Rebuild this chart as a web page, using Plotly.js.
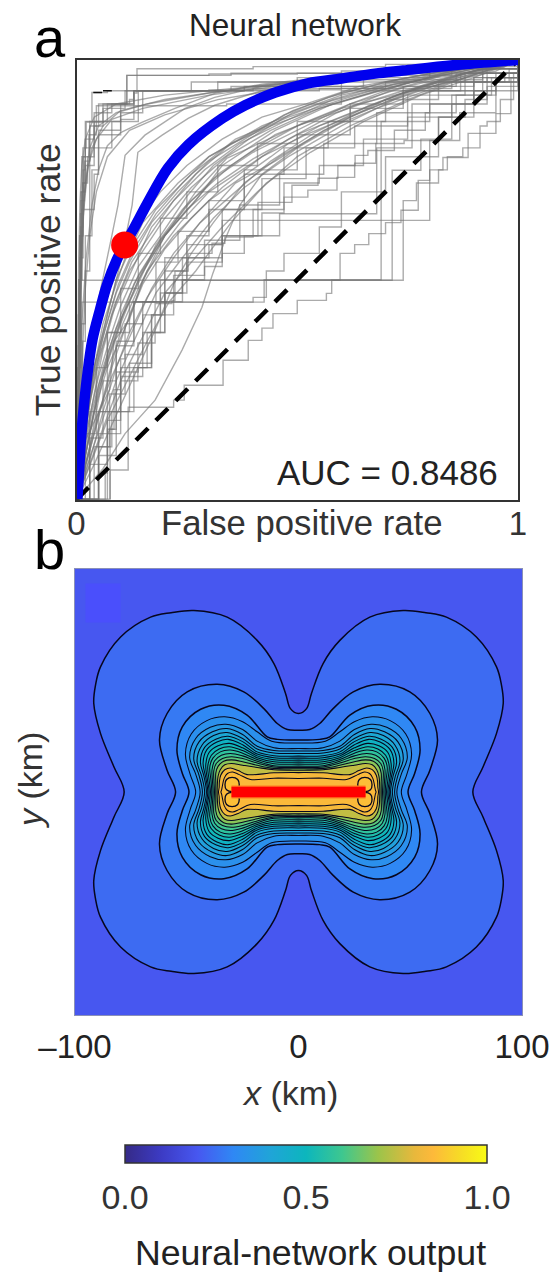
<!DOCTYPE html>
<html><head><meta charset="utf-8">
<script src="https://cdn.plot.ly/plotly-3.0.1.min.js"></script>
<style>html,body{margin:0;padding:0;background:#fff}#chart{width:552px;height:1274px}</style>
</head><body><div id="chart"></div>
<script>
// ---------- panel a: ROC curves (x, y pairs) ----------
const meanRocX = [0.002,0.006,0.010,0.018,0.026,0.036,0.053,0.069,0.091,0.109,0.128,0.161,0.207,0.253,0.330,0.382,0.450,0.524,0.601,0.676,0.740,0.853,1];
const meanRocY = [0.001,0.067,0.135,0.226,0.295,0.363,0.431,0.488,0.545,0.579,0.613,0.675,0.754,0.807,0.867,0.897,0.926,0.947,0.958,0.969,0.976,0.988,1];
const operatingX = [0.109];
const operatingY = [0.579];
const chanceX = [0,1];
const chanceY = [0,1];
const aucText = 'AUC = 0.8486';
const fineRocCurves = [
 [0,0,.01,.12,.02,.24,.04,.36,.07,.47,.1,.55,.14,.63,.19,.7,.25,.76,.33,.82,.42,.87,.52,.9,.64,.94,.78,.965,.9,.985,1,1],
 [0,0,.012,.1,.025,.2,.05,.32,.08,.42,.12,.51,.17,.62,.22,.68,.29,.75,.37,.81,.47,.86,.58,.91,.7,.945,.85,.975,1,1],
 [0,0,.015,.09,.035,.2,.06,.3,.09,.39,.13,.47,.18,.58,.24,.66,.31,.73,.4,.79,.5,.84,.62,.9,.75,.94,.88,.97,1,1],
 [0,0,.02,.1,.04,.2,.07,.3,.11,.39,.15,.49,.2,.57,.26,.64,.33,.71,.42,.78,.52,.83,.64,.88,.77,.93,.9,.965,1,1],
 [0,0,.022,.09,.05,.2,.08,.28,.12,.37,.17,.48,.22,.56,.28,.63,.36,.72,.45,.77,.56,.84,.68,.89,.82,.94,1,1],
 [0,0,.025,.08,.055,.17,.09,.27,.13,.36,.18,.47,.24,.55,.31,.64,.38,.71,.48,.78,.6,.85,.72,.91,.85,.955,1,1],
 [0,0,.03,.08,.06,.16,.1,.27,.14,.35,.2,.47,.26,.54,.33,.62,.41,.7,.5,.78,.62,.85,.75,.91,.88,.96,1,1],
 [0,0,.035,.09,.07,.18,.11,.26,.16,.36,.21,.45,.27,.52,.35,.63,.43,.72,.53,.79,.65,.86,.78,.92,.9,.96,1,1],
 [0,0,.015,.12,.03,.22,.055,.33,.085,.44,.125,.54,.165,.6,.22,.68,.27,.74,.35,.81,.44,.85,.55,.89,.68,.93,.8,.96,1,1],
 [0,0,.01,.09,.03,.19,.05,.28,.08,.38,.1,.44,.14,.53,.19,.6,.25,.69,.31,.76,.39,.82,.49,.88,.6,.92,.74,.95,.88,.98,1,1],
 [0,0,.02,.13,.04,.24,.06,.34,.09,.45,.12,.52,.16,.58,.2,.64,.26,.71,.34,.78,.44,.84,.55,.89,.67,.925,.8,.96,1,1],
 [0,0,.03,.11,.05,.19,.08,.31,.105,.4,.14,.48,.19,.57,.235,.63,.3,.7,.39,.76,.48,.82,.59,.88,.71,.93,.83,.965,1,1],
 [0,0,.06,.07,.11,.15,.178,.226,.239,.34,.284,.437,.309,.515,.34,.6,.37,.67,.42,.74,.5,.8,.62,.87,.76,.93,.9,.975,1,1],
 [0,0,.04,.08,.08,.17,.13,.28,.18,.39,.22,.49,.26,.56,.31,.63,.38,.72,.46,.78,.58,.85,.7,.91,.84,.96,1,1],
 [0,0,.005,.2,.012,.4,.022,.55,.035,.67,.05,.75,.07,.805,.1,.835,.148,.858,.223,.89,.313,.924,.42,.945,.6,.965,.8,.985,1,1],
 [0,0,.012,.18,.03,.35,.055,.48,.08,.6,.094,.67,.11,.783,.155,.829,.246,.89,.313,.915,.42,.94,.6,.96,.8,.98,1,1],
 [0,0,.02,.17,.04,.3,.07,.42,.1,.54,.126,.67,.139,.79,.194,.829,.253,.867,.313,.897,.42,.93,.6,.96,.8,.98,1,1],
 [0,0,.004,.15,.008,.35,.012,.55,.018,.7,.03,.8,.05,.85,.09,.88,.16,.9,.3,.925,.5,.95,.75,.98,1,1],
 [0,0,.006,.1,.012,.3,.02,.48,.03,.6,.045,.7,.07,.78,.12,.84,.2,.875,.32,.91,.5,.94,.75,.97,1,1],
 [0,0,.02,.135,.075,.25,.085,.36,.12,.41,.15,.5,.2,.6,.27,.68,.33,.76,.45,.84,.58,.9,.72,.94,.85,.975,1,1],
 [0,0,.04,.15,.08,.3,.12,.42,.16,.52,.22,.6,.3,.68,.44,.78,.48,.81,.55,.85,.68,.9,.78,.94,.88,.97,1,1],
 [0,0,.03,.12,.06,.28,.1,.4,.14,.5,.2,.6,.27,.7,.34,.776,.5,.85,.66,.905,.74,.93,.823,.95,.95,.98,1,1],
 [0,0,.02,.1,.05,.26,.09,.38,.13,.49,.19,.59,.26,.68,.35,.76,.45,.83,.6,.89,.72,.92,.868,.955,.95,.975,1,1],
 [0,0,.04,.3,.09,.5,.15,.63,.23,.72,.3,.78,.42,.85,.55,.9,.7,.94,.83,.965,.93,.98,1,1],
 [0,0,.02,.2,.06,.4,.11,.55,.18,.66,.26,.74,.36,.82,.48,.87,.6,.91,.72,.945,.85,.965,.97,.985,1,1],
 [0,0,.018,.16,.035,.27,.06,.37,.09,.47,.12,.54,.17,.63,.23,.7,.3,.77,.38,.82,.47,.875,.57,.915,.7,.95,.83,.975,1,1],
 [0,0,.028,.14,.05,.25,.075,.33,.105,.42,.15,.52,.2,.6,.26,.67,.32,.74,.41,.8,.51,.855,.62,.9,.74,.945,.88,.98,1,1],
 [0,0,.033,.1,.06,.2,.09,.3,.12,.38,.16,.46,.22,.55,.28,.63,.36,.7,.44,.77,.54,.835,.66,.895,.79,.945,.92,.98,1,1],
 [0,0,.014,.11,.04,.28,.065,.39,.095,.49,.13,.57,.18,.65,.24,.72,.3,.78,.39,.83,.49,.885,.6,.925,.73,.955,.86,.98,1,1],
 [0,0,.024,.12,.045,.22,.07,.33,.1,.42,.14,.51,.19,.59,.25,.66,.32,.72,.4,.775,.5,.83,.61,.875,.74,.925,.87,.965,1,1],
 [0,0,.003,.12,.006,.3,.01,.5,.015,.64,.024,.74,.035,.8,.06,.85,.1,.885,.2,.91,.4,.94,.7,.975,1,1],
 [0,0,.002,.1,.004,.25,.007,.42,.011,.58,.017,.68,.026,.76,.045,.82,.08,.865,.15,.89,.3,.92,.6,.96,1,1],
 [0,0,.001,.15,.003,.38,.005,.55,.008,.68,.012,.76,.02,.82,.04,.87,.09,.9,.2,.92,.5,.95,.8,.98,1,1]
];
const stepRocCurves = [
 [0,0,.003,.3,.006,.5,.012,.7,.02,.8,.03,.86,.035,.926,.07,.93,.3,.932,.6,.94,.9,.95,.97,.97,1,1],
 [0,0,.004,.35,.008,.55,.015,.72,.025,.78,.04,.86,.06,.9,.114,.965,.3,.968,.5,.97,.8,.985,1,1],
 [0,0,.002,.25,.005,.5,.01,.68,.018,.77,.03,.85,.05,.9,.13,.925,.137,.98,.4,.985,.7,.99,1,1],
 [0,0,.006,.3,.01,.6,.015,.75,.02,.82,.04,.88,.08,.9,.13,.93,.3,.93,.55,.935,.85,.95,.98,.98,1,1],
 [0,0,.003,.2,.006,.45,.009,.65,.0145,.8,.022,.859,.06,.86,.07,.9,.12,.91,.13,.93,.35,.94,.6,.95,.9,.96,1,1],
 [0,0,.005,.4,.008,.6,.012,.78,.02,.86,.1,.865,.13,.896,.34,.9,.6,.93,.95,.96,1,1],
 [0,0,.003,.15,.01,.4,.02,.6,.035,.75,.05,.83,.1,.86,.14,.93,.4,.935,.7,.95,1,1],
 [0,0,.004,.3,.007,.5,.012,.66,.03,.8,.08,.86,.1,.9,.114,.965,.35,.97,.6,.975,.85,.99,1,1],
 [0,0,.002,.2,.004,.42,.007,.6,.01,.7,.016,.78,.028,.83,.045,.896,.13,.93,.38,.94,.65,.955,.92,.98,1,1],
 [0,0,.003,.28,.006,.48,.009,.62,.014,.72,.02,.76,.04,.85,.06,.89,.11,.93,.26,.95,.5,.96,.8,.98,1,1],
 [0,0,.008,.18,.014,.36,.02,.52,.03,.66,.04,.74,.05,.84,.1,.88,.15,.93,.32,.95,.6,.965,.85,.98,1,1],
 [0,0,.008,.499,.715,.749,.78,.82,.85,.9,.93,.96,1,1],
 [0,0,.03,.2,.07,.38,.12,.449,.425,.5,.69,.635,.8,.817,.868,.88,.95,.95,1,1],
 [0,0,.05,.2,.09,.35,.13,.45,.2,.55,.33,.635,.69,.86,.8,.9,.9,.95,1,1],
 [0,0,.076,.067,.117,.21,.22,.226,.244,.26,.332,.317,.389,.362,.42,.39,.445,.423,.5,.453,.566,.469,.578,.499,.597,.56,.63,.58,.662,.605,.7,.63,.735,.658,.774,.726,.8,.75,.83,.778,.887,.833,.95,.878,.984,.96,1,1],
 [0,0,.076,.16,.09,.29,.14,.3,.17,.42,.2,.47,.24,.55,.3,.58,.33,.6,.42,.652,.47,.688,.524,.704,.59,.733,.63,.765,.678,.81,.742,.817,.82,.87,.88,.91,.93,.94,1,1],
 [0,0,.05,.1,.09,.2,.13,.3,.17,.38,.2,.45,.24,.5,.29,.53,.33,.56,.38,.6,.411,.676,.488,.715,.547,.731,.592,.76,.631,.783,.66,.794,.72,.84,.79,.88,.86,.92,.94,.96,1,1],
 [0,0,.03,.08,.07,.18,.1,.27,.139,.356,.178,.446,.216,.453,.223,.52,.253,.56,.307,.583,.336,.597,.4,.66,.47,.72,.55,.76,.65,.82,.75,.87,.85,.92,.95,.97,1,1],
 [0,0,.012,.449,.4,.46,.43,.52,.47,.56,.55,.62,.6,.7,.7,.78,.82,.87,.9,.93,1,1],
 [0,0,.065,.06,.07,.16,.085,.25,.1,.32,.11,.4,.15,.45,.2,.52,.25,.6,.3,.66,.38,.75,.5,.83,.62,.89,.74,.93,.87,.97,1,1],
 [0,0,.07,.2,.1,.3,.16,.38,.19,.47,.25,.54,.33,.6,.46,.65,.68,.8,.76,.9,.9,.96,1,1],
 [0,0,.05,.15,.1,.28,.15,.38,.2,.47,.24,.499,.74,.68,.77,.72,.82,.75,.84,.78,.875,.8,.914,.85,.93,.86,.96,.91,.99,.97,1,1],
 [0,0,.02,.15,.045,.3,.07,.38,.1,.48,.14,.56,.19,.64,.25,.7,.32,.76,.41,.81,.5,.86,.62,.9,.74,.94,.86,.97,1,1],
 [0,0,.03,.14,.06,.27,.09,.36,.13,.45,.18,.54,.23,.61,.3,.68,.38,.74,.47,.8,.57,.86,.7,.91,.82,.95,.93,.98,1,1],
 [0,0,.04,.12,.075,.24,.11,.33,.15,.42,.19,.5,.25,.58,.33,.66,.42,.73,.52,.8,.63,.85,.75,.92,.88,.97,1,1],
 [0,0,.05,.12,.08,.2,.12,.31,.17,.42,.22,.51,.29,.59,.37,.67,.46,.74,.56,.81,.68,.88,.8,.93,.92,.97,1,1]
];
const darkMarkX = [.038,.058,null,.06,.08];
const darkMarkY = [.926,.926,null,.93,.93];

// ---------- panel b: contour lines (one quadrant, |x| km, |y| km, outer to inner) ----------
const contourQuadrants = [
 [78,0,82.6,11.3,88.6,26.3,91.6,39.7,90.8,48,88.6,56.1,79.6,69.5,66.2,78.4,57,80.4,46.8,81.4,31.9,78.4,18.5,68,11,57.6,5.8,44.2,3.6,37.4,0,35.2],
 [55,0,58.8,9.8,62.2,23.3,58.8,35.2,49.8,44.9,36.4,48.3,24.5,44.9,15.5,37.4,9.5,30.7,5,28,0,27.7],
 [49,0,52,8.4,54.4,18.8,52,29.2,43.8,37.1,33.4,38.9,23,34.5,14,24.7,9.5,23.6,0,23.3],
 [46,0,48.5,8,50.6,17,48,26,41,32,33,33.7,25,31.5,18.5,27,12,22.8,0,22],
 [44,0,46,8,48.7,15.5,46,24,39.5,29,32.5,30.4,25,28,18.5,22.8,11,19.8,0,19.5],
 [43,0,44.5,7.5,46.9,15,44.5,22.5,38.5,27,32,28.5,25,25.8,18.5,20.5,11,18.6,0,18.4],
 [42,0,43.3,7,45.4,14,43.2,21,38,25.3,32,26.7,25,24,18.5,19.3,11,17.5,0,17.3],
 [41.2,0,42.3,7,43.9,13.5,42,20,37,23.7,31.5,25,25,22.6,18.5,18,11,16.3,0,16.1],
 [40.6,0,41.5,6.5,42.7,13,41,19,36.5,22.4,31.5,23.6,25,21.2,18.5,17,11,15.4,0,15.2],
 [40,0,40.8,6,41.5,12,40,17.7,36,20.7,31,21.8,25,19.8,18.5,16.2,11,14.5,0,14.3],
 [39.4,0,40,5.5,40.6,11.5,39,16.5,35.5,19.3,31,20.3,25,18.6,18.5,15.4,11,13.6,0,13.4],
 [38.8,0,39.2,5.5,39.7,11,38.3,15.2,35,18,30.5,18.8,25,17.4,18.5,14.6,11,12.7,0,12.5],
 [38.2,0,38.5,5,38.7,10,37.5,14,34.5,16.5,30.5,17.3,25,16.2,18.5,13.8,11,11.8,0,11.6],
 [37.6,0,37.8,4.5,37.9,9.5,36.8,12.8,34,15,30,15.8,25,15,18.5,13,11,11.2,0,11],
 [37,0,37,4,37,8.5,36,11.5,33.5,13.8,30,14.4,25,13.6,18.5,12,11,10.6,0,10.4],
 [36.4,0,36.3,3.5,36,7,35,10,33,12.2,30,12.8,25,12,18.5,11,11,10,0,9.8],
 [35.8,0,35.5,2,35.4,4.5,34.8,7.5,33,10,30.5,10.8,27,9.6,23,7.8,11,8.6,0,8.7],
 [34.7,0,34.4,1,34,3,33.3,6,31.8,8.3,29.5,9,26.5,7.8,21.5,5.6,11,6.2,0,6.1]
];
const contourValues = [.24,.27,.30,.33,.36,.39,.42,.45,.48,.51,.54,.57,.60,.63,.68,.75,.83,.845];
const backgroundValue = 0.2;
const lobeRingX = [29.7,32.2,32.9,32.2,29.7,27.2,26.5,27.2,29.7];
const lobeRingY = [0.2,1.0,3.3,5.6,6.6,5.6,3.3,1.0,0.2];
const lobeRingValue = 0.86;
const faultX = [-30,30];
const faultY = [0,0];

// ---------- colour bar ----------
const colorStops = [[0,'#352a87'],[.1,'#3c3bc4'],[.2,'#4757f0'],[.3,'#2f88f4'],[.4,'#20a4d8'],[.5,'#0cb6bd'],[.6,'#3ec78f'],[.7,'#9cc44a'],[.8,'#e8b83c'],[.85,'#fdb93a'],[.93,'#f6dd25'],[1,'#f9fb15']];
const colorbarTicks = [0,0.5,1];
const colorbarLabels = ['0.0','0.5','1.0'];
const xTicksB = [-100,0,100];
const xLabelsB = ['\u2013100','0','100'];

// ---------- helpers ----------
function FONT(){return '"Liberation Sans", Arial, sans-serif';}
function hex(c){return [1,3,5].map(i=>parseInt(c.substr(i,2),16));}
function colorOf(v){
  for(let i=1;i<colorStops.length;i++){
    if(v<=colorStops[i][0]){
      const a=colorStops[i-1],b=colorStops[i],t=(v-a[0])/(b[0]-a[0]);
      const p=hex(a[1]),q=hex(b[1]);
      return 'rgb('+p.map((u,k)=>Math.round(u+(q[k]-u)*t)).join(',')+')';
    }
  }
  return colorStops[colorStops.length-1][1];
}
function splitPairs(f){const x=[],y=[];for(let i=0;i<f.length;i+=2){x.push(f[i]);y.push(f[i+1]);}return {x,y};}
function mirrored(f){
  const q=splitPairs(f),n=q.x.length,x=[],y=[];
  for(let i=0;i<n;i++){x.push(q.x[i]);y.push(q.y[i]);}
  for(let i=n-2;i>=0;i--){x.push(-q.x[i]);y.push(q.y[i]);}
  for(let i=1;i<n;i++){x.push(-q.x[i]);y.push(-q.y[i]);}
  for(let i=n-2;i>=0;i--){x.push(q.x[i]);y.push(-q.y[i]);}
  return {x,y};
}
const GREY='rgba(115,115,115,0.6)';
const LINE='#06061e';
const traces=[];
fineRocCurves.forEach(f=>{const p=splitPairs(f);traces.push({type:'scatter',mode:'lines',x:p.x,y:p.y,xaxis:'x',yaxis:'y',line:{color:GREY,width:1.4},hoverinfo:'skip',showlegend:false});});
stepRocCurves.forEach(f=>{const p=splitPairs(f);traces.push({type:'scatter',mode:'lines',x:p.x,y:p.y,xaxis:'x',yaxis:'y',line:{color:GREY,width:1.4,shape:'hv'},hoverinfo:'skip',showlegend:false});});
traces.push({type:'scatter',mode:'lines',x:darkMarkX,y:darkMarkY,xaxis:'x',yaxis:'y',line:{color:'#111',width:1.5},hoverinfo:'skip',showlegend:false});
traces.push({type:'scatter',mode:'lines',x:chanceX,y:chanceY,xaxis:'x',yaxis:'y',line:{color:'#000',width:4.5,dash:'17px,11px'},hoverinfo:'skip',showlegend:false});
traces.push({type:'scatter',mode:'lines',x:meanRocX,y:meanRocY,xaxis:'x',yaxis:'y',line:{color:'#0000ee',width:10.5,shape:'spline',smoothing:1},hoverinfo:'skip',showlegend:false});
traces.push({type:'scatter',mode:'markers',x:operatingX,y:operatingY,xaxis:'x',yaxis:'y',marker:{color:'#ff0000',size:27},hoverinfo:'skip',showlegend:false});

contourQuadrants.forEach((f,i)=>{
  const p=mirrored(f);
  traces.push({type:'scatter',mode:'lines',x:p.x,y:p.y,xaxis:'x2',yaxis:'y2',fill:'toself',fillcolor:colorOf(contourValues[i]),
    line:{color:LINE,width:i<3?1.5:1.05,shape:'spline',smoothing:1},hoverinfo:'skip',showlegend:false});
});
[[1,1],[-1,1],[-1,-1],[1,-1]].forEach(s=>{
  traces.push({type:'scatter',mode:'lines',x:lobeRingX.map(v=>v*s[0]),y:lobeRingY.map(v=>v*s[1]),xaxis:'x2',yaxis:'y2',fill:'toself',fillcolor:colorOf(lobeRingValue),
    line:{color:LINE,width:1.3,shape:'spline',smoothing:1},hoverinfo:'skip',showlegend:false});
});
traces.push({type:'scatter',mode:'lines',x:faultX,y:faultY,xaxis:'x2',yaxis:'y2',line:{color:'#ff7a20',width:13},hoverinfo:'skip',showlegend:false});
traces.push({type:'scatter',mode:'lines',x:faultX,y:faultY,xaxis:'x2',yaxis:'y2',line:{color:'#ff0000',width:10.5},hoverinfo:'skip',showlegend:false});
// colour-bar carrier, outside the axis range
traces.push({type:'scatter',mode:'markers',x:[-1000,-1000],y:[-1000,-1000],xaxis:'x2',yaxis:'y2',hoverinfo:'skip',showlegend:false,
  marker:{color:[0,1],cmin:0,cmax:1,colorscale:colorStops,showscale:true,size:1,
    colorbar:{orientation:'h',lenmode:'pixels',len:362,thicknessmode:'pixels',thickness:18,x:306/552,xanchor:'center',y:(1274-1145)/1274,yanchor:'top',
      xpad:0,ypad:0,outlinecolor:'#333',outlinewidth:1.5,tickmode:'array',tickvals:colorbarTicks,ticktext:colorbarLabels,ticks:'outside',ticklen:5,tickcolor:'rgba(0,0,0,0)',
      tickfont:{family:FONT(),size:34,color:'#333'}}}});

const W=552,H=1274;
const dom=(a,b)=>[a/W,b/W], vdom=(top,bot)=>[(H-bot)/H,(H-top)/H];
const layout={
  width:W,height:H,margin:{l:0,r:0,t:0,b:0},paper_bgcolor:'#fff',plot_bgcolor:'#fff',showlegend:false,
  font:{family:FONT(),size:33,color:'#222'},
  title:{text:'Neural network',x:295/W,xanchor:'center',y:(H-25)/H,yanchor:'middle',font:{size:31.5,color:'#222'}},
  xaxis:{domain:dom(76.5,518),range:[0,1],tickmode:'array',tickvals:[0,1],ticktext:['0','1'],ticks:'',ticklabelstandoff:-6,showgrid:false,zeroline:false,showline:true,mirror:true,linewidth:2,linecolor:'#333',tickfont:{size:33,color:'#333'}},
  yaxis:{domain:vdom(60,499.5),range:[0,1],tickmode:'array',tickvals:[],showticklabels:false,showgrid:false,zeroline:false,showline:true,mirror:true,linewidth:2,linecolor:'#333',
    title:{text:'True positive rate',standoff:3,font:{size:35.5,color:'#333'}}},
  xaxis2:{domain:dom(75,522),range:[-100,100],anchor:'y2',tickmode:'array',tickvals:xTicksB,ticktext:xLabelsB,ticks:'outside',ticklen:2,tickcolor:'rgba(0,0,0,0)',showgrid:false,zeroline:false,showline:true,mirror:true,linewidth:1,linecolor:'#8a90b8',tickfont:{size:33,color:'#222'}},
  yaxis2:{domain:vdom(569,1015),range:[-100,100],anchor:'x2',tickmode:'array',tickvals:[],showticklabels:false,showgrid:false,zeroline:false,showline:true,mirror:true,linewidth:1,linecolor:'#8a90b8'},
  shapes:[
    {type:'rect',xref:'x2',yref:'y2',x0:-100,x1:100,y0:-100,y1:100,line:{width:0},fillcolor:colorOf(backgroundValue),layer:'below'},
    {type:'rect',xref:'x2',yref:'y2',x0:-95.3,x1:-79.6,y0:76,y1:93.5,line:{width:0},fillcolor:'#4a4ffc',layer:'below'},
    {type:'line',xref:'paper',yref:'paper',x0:306/W,x1:306/W,y0:(H-1163)/H,y1:(H-1159)/H,line:{color:'#333',width:1}}
  ],
  annotations:[
    {text:'a',xref:'paper',yref:'paper',x:50/W,y:(H-38)/H,xanchor:'center',yanchor:'middle',showarrow:false,font:{size:56,color:'#000'}},
    {text:'b',xref:'paper',yref:'paper',x:49/W,y:(H-549)/H,xanchor:'center',yanchor:'middle',showarrow:false,font:{size:56,color:'#000'}},
    {text:'False positive rate',xref:'paper',yref:'paper',x:301/W,y:(H-523)/H,xanchor:'center',yanchor:'middle',showarrow:false,font:{size:34.7,color:'#333'}},
    {text:aucText,xref:'paper',yref:'paper',x:387/W,y:(H-472)/H,xanchor:'center',yanchor:'middle',showarrow:false,font:{size:35,color:'#222'}},
    {text:'<i>y</i> (km)',textangle:-90,xref:'paper',yref:'paper',x:30/W,y:(H-780)/H,xanchor:'center',yanchor:'middle',showarrow:false,font:{size:34,color:'#333'}},
    {text:'<i>x</i> (km)',xref:'paper',yref:'paper',x:290/W,y:(H-1093)/H,xanchor:'center',yanchor:'middle',showarrow:false,font:{size:34,color:'#333'}},
    {text:'Neural-network output',xref:'paper',yref:'paper',x:310/W,y:(H-1253)/H,xanchor:'center',yanchor:'middle',showarrow:false,font:{size:35.7,color:'#222'}}
  ]
};
Plotly.newPlot('chart',traces,layout,{displayModeBar:false,staticPlot:true});
</script></body></html>
